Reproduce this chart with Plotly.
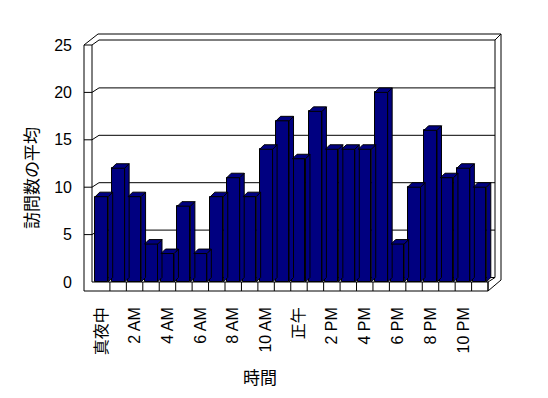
import plotly.graph_objects as go

# ---- data ----
hours = list(range(24))
visits = [9, 12, 9, 4, 3, 8, 3, 9, 11, 9, 14, 17, 13, 18, 14, 14, 14, 20, 4, 10, 16, 11, 12, 10]
tick_positions = [0, 2, 4, 6, 8, 10, 12, 14, 16, 18, 20, 22]
tick_labels = ["真夜中", "2 AM", "4 AM", "6 AM", "8 AM", "10 AM", "正午",
               "2 PM", "4 PM", "6 PM", "8 PM", "10 PM"]
y_ticks = [0, 5, 10, 15, 20, 25]
x_title = "時間"
y_title = "訪問数の平均"

# ---- geometry helpers (pixel -> axis units) ----
W, H = 548, 398
PL, PR, PT, PB = 80, 505, 30, 295   # plot area in pixels
CAT_PX = 16.44                      # pixels per category
X0_PX = 101.7                       # pixel of category 0 centre
UNIT_PX = 9.48                      # pixels per value unit
Y0_PX = 282.0                       # pixel of value 0 (front plane)


def X(px):
    return (px - X0_PX) / CAT_PX


def Y(py):
    return (Y0_PX - py) / UNIT_PX


NAVY = "#000080"
BW = 0.79                 # bar width (categories)
DDX = 4.5 / CAT_PX        # depth offset of bars
DDY = 4.5 / UNIT_PX

fig = go.Figure()

# 3D side and top faces of bars
for i, v in zip(hours, visits):
    xl, xr = i - BW / 2, i + BW / 2
    fig.add_trace(go.Scatter(
        x=[xr, xr + DDX, xr + DDX, xr, xr],
        y=[0, DDY, v + DDY, v, 0],
        fill="toself", fillcolor=NAVY, mode="lines",
        line=dict(color="black", width=1), hoverinfo="skip", showlegend=False))
    fig.add_trace(go.Scatter(
        x=[xl, xl + DDX, xr + DDX, xr, xl],
        y=[v, v + DDY, v + DDY, v, v],
        fill="toself", fillcolor=NAVY, mode="lines",
        line=dict(color="black", width=1), hoverinfo="skip", showlegend=False))

# front faces
fig.add_trace(go.Bar(
    x=hours, y=visits, width=BW,
    marker=dict(color=NAVY, line=dict(color="black", width=1)),
    hoverinfo="skip", showlegend=False))

# ---- walls / floor / gridlines ----
segments = [
    # side wall
    ((84, 45), (84, 291)), ((92, 45), (92, 282)), ((84, 45), (92, 45)),
    ((84, 45), (98, 34)), ((92, 45), (99, 40)),
    # back wall
    ((98, 34), (501, 34)), ((99, 40), (495, 40)), ((495, 40), (501, 34)),
    ((495, 40), (495, 277.5)), ((501, 34), (501, 280)),
    # floor
    ((84, 291), (488, 291)), ((92, 282), (488, 282)), ((488, 282), (488, 291)),
    ((488, 291), (501, 280)), ((488, 282), (495, 277.5)), ((99, 277.5), (495, 277.5)),
]
for v in y_ticks[1:-1]:
    yf = Y0_PX - UNIT_PX * v
    yb = 277.5 - UNIT_PX * v
    segments += [((84, yf), (92, yf)), ((92, yf), (99, yb)), ((99, yb), (495, yb))]
# floor dividers between categories
for i in hours:
    segments.append(((X0_PX + CAT_PX * (i + 0.5), 282), (X0_PX + CAT_PX * (i + 0.5), 291)))

shapes = []
for (x0, y0), (x1, y1) in segments:
    shapes.append(dict(type="line", xref="x", yref="y",
                       x0=X(x0), y0=Y(y0), x1=X(x1), y1=Y(y1),
                       line=dict(color="black", width=1), layer="below"))

FONT = "Liberation Sans, Noto Sans CJK JP, sans-serif"


def paper_x(px):
    return (px - PL) / (PR - PL)


def paper_y(py):
    return (PB - py) / (PB - PT)


fig.update_layout(
    width=W, height=H,
    margin=dict(l=PL, r=W - PR, t=PT, b=H - PB, pad=0),
    paper_bgcolor="white", plot_bgcolor="white",
    shapes=shapes,
    bargap=0,
    font=dict(family=FONT, color="black"),
    xaxis=dict(range=[X(PL), X(PR)], tickvals=tick_positions, ticktext=tick_labels,
               tickangle=-90, tickfont=dict(size=16, family=FONT),
               showgrid=False, zeroline=False, showline=False, ticks="",
               ticklabelstandoff=8, fixedrange=True),
    yaxis=dict(range=[Y(PB), Y(PT)], tickvals=y_ticks,
               tickfont=dict(size=16, family=FONT),
               showgrid=False, zeroline=False, showline=False, ticks="",
               ticklabelstandoff=7, fixedrange=True),
    annotations=[
        dict(text=y_title, xref="paper", yref="paper", x=paper_x(30), y=paper_y(178),
             xanchor="center", yanchor="middle",
             showarrow=False, textangle=-90, font=dict(size=17, family="Noto Sans CJK JP")),
        dict(text=x_title, xref="paper", yref="paper", x=paper_x(260), y=paper_y(376),
             xanchor="center", yanchor="middle",
             showarrow=False, font=dict(size=17, family="Noto Sans CJK JP")),
    ],
)

fig.write_html("out.html")
